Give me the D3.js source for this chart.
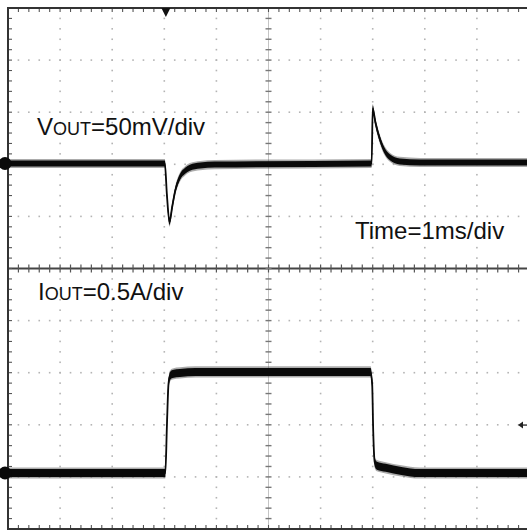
<!DOCTYPE html>
<html><head><meta charset="utf-8">
<script src="https://cdn.jsdelivr.net/npm/d3@7"></script>
<style>html,body{margin:0;padding:0;background:#fff;overflow:hidden}svg{display:block}</style>
</head><body>
<svg id="c" width="527" height="531"></svg>
<script>
// ---- data (read from the scope capture) ----
const timeDivMs = 1;          // Time = 1 ms/div
const voutScale = 50;         // mV/div
const ioutScale = 0.5;        // A/div
const voutOffsetDiv = 2.015;  // channel ground marker (divisions from centre)
const ioutOffsetDiv = -3.925;
const triggerTimeMs = 3.03;
const triggerLevelA = 0.46;

const voutTime = [0, 3.01, 3.05, 3.10, 3.15, 3.21, 3.30, 3.40, 3.49, 3.69, 3.97, 6.98, 7.00, 7.05, 7.14, 7.22, 7.33, 7.52, 7.91, 10];
const voutMv   = [0, 0, -30, -56, -42, -26, -13, -7, -4, -2, -1, 0, 53, 40, 23, 13, 6, 2, 1, 1];

const ioutTime = [0, 3.02, 3.05, 3.08, 3.11, 3.16, 3.30, 3.60, 6.96, 6.99, 7.01, 7.04, 7.08, 7.25, 7.55, 7.90, 10];
const ioutA    = [0, 0, 0.45, 0.85, 0.93, 0.95, 0.96, 0.97, 0.97, 0.85, 0.40, 0.10, 0.07, 0.05, 0.02, 0, 0];

const labels = [
  {main: "V", sub: "OUT", rest: "=50mV/div", x: 37, y: 135},
  {main: "I", sub: "OUT", rest: "=0.5A/div", x: 38, y: 300},
  {main: "Time=1ms/div", sub: "", rest: "", x: 355, y: 239}
];

// ---- drawing ----
const svg = d3.select("#c");
const x = d3.scaleLinear().domain([0, 10 * timeDivMs]).range([8, 529]);
const y = d3.scaleLinear().domain([-5, 5]).range([529, 8]);
const minor = 0.2;

const g = svg.append("g");
// dotted graticule
const majors = d3.range(1, 10).filter(k => k !== 5).map(k => k - 5);
const minors = d3.range(1, 50).map(j => -5 + j * minor);
majors.forEach(m => {
  minors.forEach(n => {
    g.append("rect").attr("x", x(m + 5) - 0.8).attr("y", y(n) - 0.8).attr("width", 1.6).attr("height", 1.6).attr("fill", "#b4b4b4");
    g.append("rect").attr("x", x(n + 5) - 0.8).attr("y", y(m) - 0.8).attr("width", 1.6).attr("height", 1.6).attr("fill", "#b4b4b4");
  });
});
// centre axes
g.append("line").attr("x1", x(0)).attr("x2", x(10)).attr("y1", y(0)).attr("y2", y(0)).attr("stroke", "#444").attr("stroke-width", 1.8);
g.append("line").attr("x1", x(5)).attr("x2", x(5)).attr("y1", y(5)).attr("y2", y(-5)).attr("stroke", "#c4c4c4").attr("stroke-width", 1);
minors.forEach(n => {
  g.append("line").attr("x1", x(n + 5)).attr("x2", x(n + 5)).attr("y1", y(0) - 4).attr("y2", y(0) + 4).attr("stroke", "#555").attr("stroke-width", 1.2);
  g.append("line").attr("x1", x(5) - 3).attr("x2", x(5) + 3).attr("y1", y(n)).attr("y2", y(n)).attr("stroke", "#777").attr("stroke-width", 1.4);
  // border ticks
  g.append("line").attr("x1", x(n + 5)).attr("x2", x(n + 5)).attr("y1", y(5)).attr("y2", y(5) + 4).attr("stroke", "#555").attr("stroke-width", 1.1);
  g.append("line").attr("x1", x(n + 5)).attr("x2", x(n + 5)).attr("y1", y(-5)).attr("y2", y(-5) - 4).attr("stroke", "#555").attr("stroke-width", 1.1);
  g.append("line").attr("x1", x(0)).attr("x2", x(0) + 4).attr("y1", y(n)).attr("y2", y(n)).attr("stroke", "#555").attr("stroke-width", 1.1);
});
// border
g.append("rect").attr("x", x(0)).attr("y", y(5)).attr("width", x(10) - x(0)).attr("height", y(-5) - y(5))
  .attr("fill", "none").attr("stroke", "#333").attr("stroke-width", 2);

// traces: a noise band that is thick in y only, so the steep edges stay thin
const vData = voutTime.map((t, i) => [t, voutOffsetDiv + voutMv[i] / voutScale]);
const iData = ioutTime.map((t, i) => [t, ioutOffsetDiv + ioutA[i] / ioutScale]);
function band(d, h) {
  return d3.area().x(p => x(p[0])).y0(p => y(p[1]) - h).y1(p => y(p[1]) + h).curve(d3.curveMonotoneX)(d);
}
const line = d3.line().x(p => x(p[0])).y(p => y(p[1])).curve(d3.curveMonotoneX);
[[vData, 3.0], [iData, 4.0]].forEach(([d, h]) => {
  svg.append("path").attr("d", band(d, h + 1.6)).attr("fill", "#444").attr("fill-opacity", 0.45);
  svg.append("path").attr("d", band(d, h)).attr("fill", "#0a0a0a");
  svg.append("path").attr("d", line(d)).attr("fill", "none").attr("stroke", "#0a0a0a").attr("stroke-width", 1.8);
});

// channel ground markers
[voutOffsetDiv, ioutOffsetDiv].forEach(o => {
  svg.append("ellipse").attr("cx", 5).attr("cy", y(o)).attr("rx", 6.5).attr("ry", 6.5).attr("fill", "#0a0a0a");
});
// trigger position marker
const tx = x(triggerTimeMs);
svg.append("path").attr("d", `M${tx - 4.5},${y(5)}L${tx + 4.5},${y(5)}L${tx},${y(5) + 9}Z`).attr("fill", "#111");
// trigger level arrow
const ty = y(ioutOffsetDiv + triggerLevelA / ioutScale);
svg.append("path").attr("d", `M518,${ty}L523,${ty - 3.5}L523,${ty + 3.5}Z`).attr("fill", "#222");
svg.append("line").attr("x1", 522).attr("x2", 527).attr("y1", ty).attr("y2", ty).attr("stroke", "#222").attr("stroke-width", 1.3);

// labels
labels.forEach(l => {
  const t = svg.append("text").attr("x", l.x).attr("y", l.y)
    .attr("font-family", "Liberation Sans, Arial, sans-serif").attr("font-size", 24).attr("fill", "#111");
  t.append("tspan").text(l.main);
  if (l.sub) t.append("tspan").attr("font-size", 18).text(l.sub);
  if (l.rest) t.append("tspan").text(l.rest);
});
</script>
</body></html>
